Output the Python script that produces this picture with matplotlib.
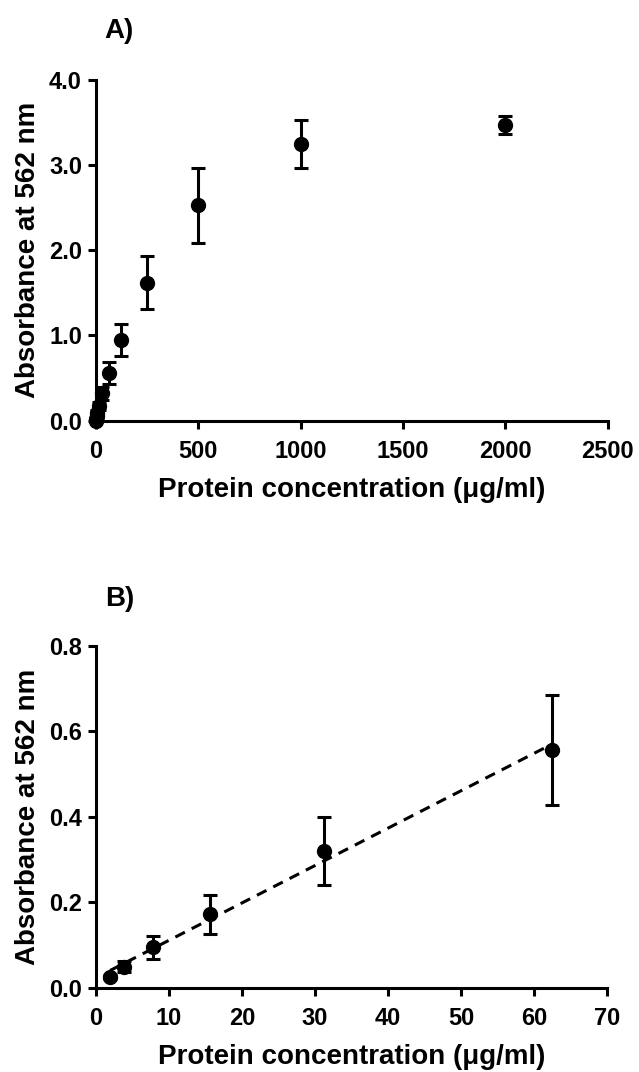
import numpy as np
import matplotlib.pyplot as plt

plt.rcParams['font.family'] = ['Liberation Sans', 'DejaVu Sans']
plt.rcParams['font.weight'] = 'bold'

# panel A: full standard curve
conc_a = [0, 1.95, 3.9, 7.8, 15.6, 31.25, 62.5, 125, 250, 500, 1000, 2000]
abs_a = [0.0, 0.025, 0.05, 0.095, 0.172, 0.32, 0.557, 0.95, 1.62, 2.53, 3.25, 3.47]
err_a = [0.0, 0.005, 0.013, 0.027, 0.045, 0.08, 0.13, 0.19, 0.31, 0.44, 0.28, 0.11]

# panel B: linear range
conc_b = [1.95, 3.9, 7.8, 15.6, 31.25, 62.5]
abs_b = [0.025, 0.05, 0.095, 0.172, 0.32, 0.557]
err_b = [0.005, 0.013, 0.027, 0.045, 0.08, 0.128]

xlabel = 'Protein concentration (\u03bcg/ml)'
ylabel = 'Absorbance at 562 nm'

fig = plt.figure(figsize=(6.39, 10.72), dpi=100)
axA = fig.add_axes([0.150, 0.6076, 0.801, 0.3178])
axB = fig.add_axes([0.150, 0.0784, 0.800, 0.3190])

def style(ax):
    for s in ['top', 'right']:
        ax.spines[s].set_visible(False)
    for s in ['left', 'bottom']:
        ax.spines[s].set_linewidth(2.2)
    ax.tick_params(width=2.2, length=6, labelsize=17, direction='out')
    ax.tick_params(axis='x', pad=8)
    ax.tick_params(axis='y', pad=4)
    for lab in ax.get_xticklabels() + ax.get_yticklabels():
        lab.set_fontweight('bold')
    ax.set_xlabel(xlabel, fontsize=20, fontweight='bold', labelpad=10)
    ax.set_ylabel(ylabel, fontsize=20, fontweight='bold', labelpad=6)

ekw = dict(fmt='o', color='black', markersize=10, elinewidth=2.2, capsize=5,
           capthick=2.2, clip_on=False, zorder=3)

axA.errorbar(conc_a, abs_a, yerr=err_a, **ekw)
axA.set_xlim(0, 2500)
axA.set_ylim(0, 4.0)
axA.set_xticks([0, 500, 1000, 1500, 2000, 2500])
axA.set_yticks([0, 1, 2, 3, 4])
axA.set_yticklabels(['0.0', '1.0', '2.0', '3.0', '4.0'])
style(axA)

axB.errorbar(conc_b, abs_b, yerr=err_b, **ekw)
k, b = np.polyfit(conc_b, abs_b, 1)
xs = np.array([conc_b[0], conc_b[-1]])
axB.plot(xs, k * xs + b, '--', color='black', linewidth=2.2, dashes=(3.5, 2.5), zorder=2)
axB.set_xlim(0, 70)
axB.set_ylim(0, 0.8)
axB.set_xticks(range(0, 80, 10))
axB.set_yticks([0, 0.2, 0.4, 0.6, 0.8])
axB.set_yticklabels(['0.0', '0.2', '0.4', '0.6', '0.8'])
style(axB)

fig.text(0.164, 0.971, 'A)', fontsize=20, fontweight='bold', va='center')
fig.text(0.164, 0.441, 'B)', fontsize=20, fontweight='bold', va='center')

fig.savefig('out.png', dpi=100)
